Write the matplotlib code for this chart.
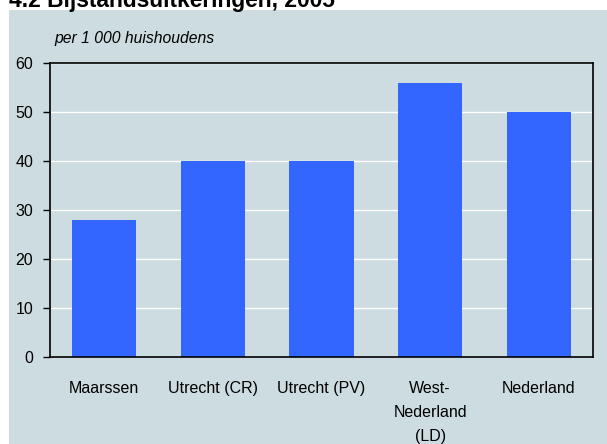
import matplotlib
matplotlib.use('Agg')
import matplotlib.pyplot as plt
from matplotlib.patches import Rectangle

regions = ['Maarssen', 'Utrecht (CR)', 'Utrecht (PV)', 'West-\nNederland\n(LD)', 'Nederland']
uitkeringen = [28, 40, 40, 56, 50]
yticks = [0, 10, 20, 30, 40, 50, 60]

panel = '#cddce1'
blauw = '#3366ff'

plt.rcParams['font.family'] = ['Liberation Sans', 'DejaVu Sans']

fig = plt.figure(figsize=(6.07, 4.44), dpi=100)
W, H = 607, 444
fig.patches.append(Rectangle((9 / W, 0), 1 - 9 / W, 1 - 10 / H,
                             transform=fig.transFigure, facecolor=panel,
                             edgecolor='none', zorder=-10))

ax = fig.add_axes([50 / W, 1 - 357 / H, (593 - 50) / W, (357 - 63) / H])
ax.set_facecolor(panel)
x = range(len(regions))
ax.bar(x, uitkeringen, width=0.59, color=blauw, zorder=2)
ax.set_xlim(-0.5, len(regions) - 0.5)
ax.set_ylim(0, 60)
ax.set_yticks(yticks)
ax.yaxis.grid(True, color='white', linewidth=1, zorder=1)
ax.set_axisbelow(True)
ax.set_xticks(list(x))
ax.set_xticklabels(regions, fontsize=11.5, linespacing=1.75, va='top')
ax.tick_params(axis='x', length=0, pad=17)
ax.tick_params(axis='y', length=5, width=1, labelsize=11.5, pad=7)
for s in ax.spines.values():
    s.set_color('black')
    s.set_linewidth(1.2)

fig.text(9 / W, 1 - 7 / H, '4.2 Bijstandsuitkeringen, 2005', fontsize=16.4,
         fontweight='bold', ha='left', va='baseline')
fig.text(54 / W, 1 - 38 / H, 'per 1 000 huishoudens', fontsize=11.3,
         style='italic', ha='left', va='center')

fig.savefig('out.png', dpi=100)
